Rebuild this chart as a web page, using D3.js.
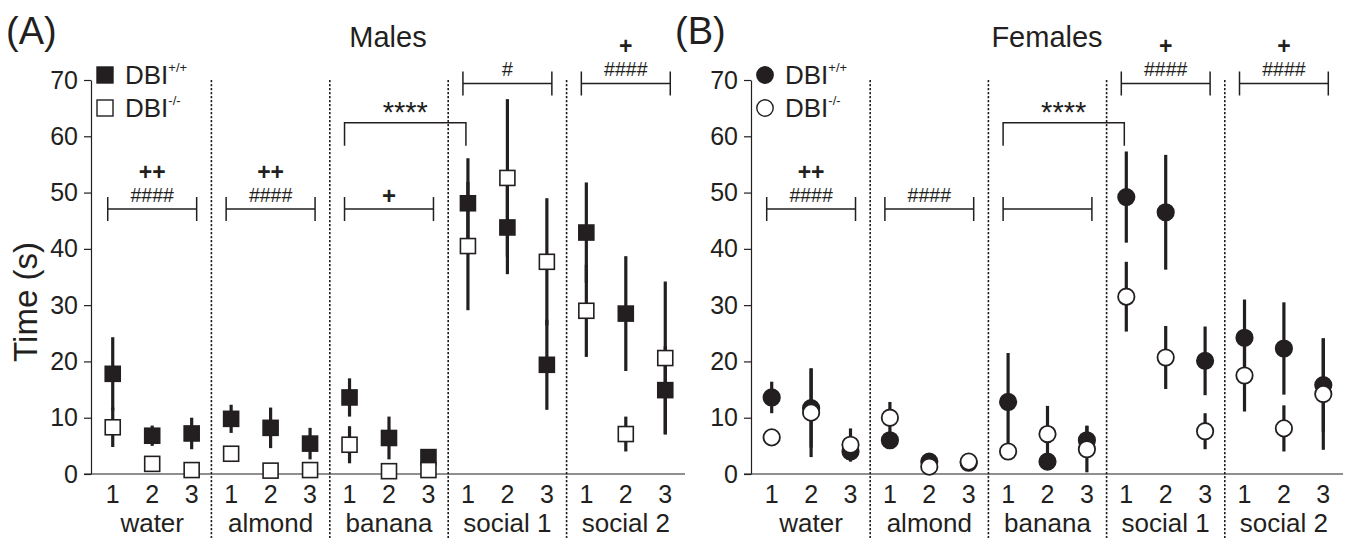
<!DOCTYPE html>
<html><head><meta charset="utf-8">
<script src="https://cdn.jsdelivr.net/npm/d3@7/dist/d3.min.js"></script>
<style>
html,body{margin:0;padding:0;background:#fff;}
svg{display:block;font-family:Arial,"Liberation Sans",Helvetica,sans-serif;}
</style>
</head><body>
<svg id="chart" width="1346" height="538"></svg>
<script>
// ---- data ----
const categories = ["water", "almond", "banana", "social 1", "social 2"];
const trials = ["1", "2", "3"];
const yTicks = [0, 10, 20, 30, 40, 50, 60, 70];
const seriesNames = ["DBI", "DBI"];
const seriesSup = ["+/+", "-/-"];

// Males (A)
const maleWT = [17.8, 6.8, 7.2, 9.8, 8.2, 5.4, 13.6, 6.4, 3.0, 48.1, 43.8, 19.4, 42.9, 28.5, 14.9];
const maleWTerr = [6.5, 1.8, 2.8, 2.5, 3.6, 2.8, 3.4, 3.8, 1.4, 8.0, 8.3, 8.0, 8.9, 10.2, 7.8];
const maleKO = [8.3, 1.8, 0.7, 3.6, 0.6, 0.7, 5.2, 0.5, 0.7, 40.5, 52.6, 37.7, 29.0, 7.1, 20.6];
const maleKOerr = [3.5, 0.4, 0.3, 0.4, 0.3, 0.3, 3.3, 0.3, 0.3, 11.4, 14.0, 11.3, 8.2, 3.1, 13.6];

// Females (B)
const femWT = [13.6, 11.7, 4.0, 6.0, 2.2, 2.0, 12.8, 2.2, 6.0, 49.2, 46.5, 20.1, 24.2, 22.3, 15.8];
const femWTerr = [2.8, 7.0, 1.8, 0.6, 0.4, 0.4, 8.7, 0.4, 2.6, 8.1, 10.2, 6.1, 6.8, 8.2, 8.3];
const femKO = [6.5, 10.9, 5.2, 10.0, 1.3, 2.2, 4.0, 7.1, 4.4, 31.5, 20.7, 7.6, 17.5, 8.1, 14.2];
const femKOerr = [0.4, 7.9, 2.9, 2.8, 0.4, 0.4, 0.4, 5.0, 4.1, 6.2, 5.6, 3.2, 6.4, 4.1, 9.9];

// significance annotations: group index, upper text, lower text
const maleSig = [
  {group: 0, upper: "++", lower: "####"},
  {group: 1, upper: "++", lower: "####"},
  {group: 2, upper: "", lower: "+"},
  {group: 3, upper: "", lower: "#"},
  {group: 4, upper: "+", lower: "####"}
];
const femSig = [
  {group: 0, upper: "++", lower: "####"},
  {group: 1, upper: "", lower: "####"},
  {group: 2, upper: "", lower: ""},
  {group: 3, upper: "+", lower: "####"},
  {group: 4, upper: "+", lower: "####"}
];
const starText = "****";

// ---- drawing ----
const INK = "#231f20";
const svg = d3.select("#chart");
const y = d3.scaleLinear().domain([0, 70]).range([474, 80]);
const keys = [];
categories.forEach(c => trials.forEach(t => keys.push(c + "|" + t)));

function panel(opt) {
  const g = svg.append("g");
  const x = d3.scaleBand().domain(keys).range(opt.range).paddingInner(0).paddingOuter(0);
  const cx = i => x(keys[i]) + x.bandwidth() / 2;

  // separators
  for (let gi = 1; gi < categories.length; gi++) {
    const sx = x(keys[gi * 3]);
    g.append("line").attr("x1", sx).attr("x2", sx).attr("y1", y(70)).attr("y2", 538)
      .attr("stroke", INK).attr("stroke-width", 1.6).attr("stroke-dasharray", "2.2,1.8");
  }

  // y axis
  const ax = d3.axisLeft(y).tickValues(yTicks).tickSize(7).tickPadding(6).tickSizeOuter(0);
  const ag = g.append("g").attr("transform", `translate(${opt.axisX},0)`).call(ax);
  ag.select(".domain").attr("stroke", INK).attr("stroke-width", 1.2);
  ag.selectAll(".tick line").attr("stroke", INK).attr("stroke-width", 1.2);
  ag.selectAll(".tick text").attr("font-size", 25).attr("fill", INK)
    .attr("font-family", "Arial, 'Liberation Sans', sans-serif");

  // x baseline
  g.append("line").attr("x1", opt.axisX - 7).attr("x2", opt.range[1]).attr("y1", y(0)).attr("y2", y(0))
    .attr("stroke", INK).attr("stroke-width", 1.2);

  // x tick labels
  g.selectAll("text.trial").data(keys).enter().append("text").attr("class", "trial")
    .attr("x", (d, i) => cx(i)).attr("y", 503).attr("text-anchor", "middle")
    .attr("font-size", 25).attr("fill", INK).text(d => d.split("|")[1]);
  // category labels
  g.selectAll("text.cat").data(categories).enter().append("text").attr("class", "cat")
    .attr("x", (d, i) => cx(i * 3 + 1)).attr("y", 532).attr("text-anchor", "middle")
    .attr("font-size", 26).attr("fill", INK).text(d => d);

  // error bars
  const series = [
    {mean: opt.wt, err: opt.wtErr, filled: true},
    {mean: opt.ko, err: opt.koErr, filled: false}
  ];
  series.forEach(s => {
    g.selectAll(null).data(s.mean).enter().append("line")
      .attr("x1", (d, i) => cx(i)).attr("x2", (d, i) => cx(i))
      .attr("y1", (d, i) => y(Math.max(0, d - s.err[i])))
      .attr("y2", (d, i) => y(d + s.err[i]))
      .attr("stroke", INK).attr("stroke-width", 3.2);
  });
  // markers
  series.forEach(s => {
    const sel = g.selectAll(null).data(s.mean).enter();
    if (opt.shape === "square") {
      const sz = 15;
      sel.append("rect")
        .attr("x", (d, i) => cx(i) - sz / 2).attr("y", d => y(d) - sz / 2)
        .attr("width", sz).attr("height", sz)
        .attr("fill", s.filled ? INK : "#fff").attr("stroke", INK).attr("stroke-width", 1.6);
    } else {
      sel.append("circle")
        .attr("cx", (d, i) => cx(i)).attr("cy", d => y(d)).attr("r", 8.2)
        .attr("fill", s.filled ? INK : "#fff").attr("stroke", INK).attr("stroke-width", 1.8);
    }
  });

  // significance brackets (per group)
  const lowLevel = 47.1, highLevel = 69.4;
  opt.sig.forEach(s => {
    const high = s.group >= 3;
    const lev = high ? highLevel : lowLevel;
    const x1 = cx(s.group * 3) - 5, x2 = cx(s.group * 3 + 2) + 5, yy = y(lev);
    g.append("path").attr("d", `M${x1},${yy - 12}V${yy + 12}M${x1},${yy}H${x2}M${x2},${yy - 12}V${yy + 12}`)
      .attr("fill", "none").attr("stroke", INK).attr("stroke-width", 1.5);
    const mid = (x1 + x2) / 2;
    if (s.lower) {
      const isHash = s.lower.indexOf("#") >= 0;
      g.append("text").attr("x", mid).attr("y", isHash ? yy - 7 : yy - 5).attr("text-anchor", "middle")
        .attr("font-size", isHash ? 19.5 : 24).attr("font-weight", isHash ? "normal" : "bold")
        .attr("fill", INK).text(s.lower);
    }
    if (s.upper) {
      g.append("text").attr("x", mid).attr("y", yy - 29).attr("text-anchor", "middle")
        .attr("font-size", 23).attr("font-weight", "bold").attr("fill", INK).text(s.upper);
    }
  });
  // **** bracket from banana trial 1 to social 1 trial 1
  {
    const x1 = cx(6) - 5, x2 = cx(9) - 2, yy = y(62.4), yb = y(58.3);
    g.append("path").attr("d", `M${x1},${yb}V${yy}H${x2}V${yb}`)
      .attr("fill", "none").attr("stroke", INK).attr("stroke-width", 1.5);
    g.append("text").attr("x", (x1 + x2) / 2).attr("y", yy - 1).attr("text-anchor", "middle")
      .attr("font-size", 29).attr("fill", INK).text(starText);
  }

  // legend
  const lx = opt.axisX + 14;
  [0, 1].forEach(k => {
    const ly = 75 + k * 33;
    if (opt.shape === "square") {
      g.append("rect").attr("x", lx - 8).attr("y", ly - 8).attr("width", 16).attr("height", 16)
        .attr("fill", k === 0 ? INK : "#fff").attr("stroke", INK).attr("stroke-width", 1.4);
    } else {
      g.append("circle").attr("cx", lx).attr("cy", ly).attr("r", 8.2)
        .attr("fill", k === 0 ? INK : "#fff").attr("stroke", INK).attr("stroke-width", 1.4);
    }
    const t = g.append("text").attr("x", lx + 20).attr("y", ly + 8.5).attr("font-size", 26).attr("fill", INK);
    t.append("tspan").text(seriesNames[k]);
    t.append("tspan").attr("dy", -12).attr("font-size", 13).text(seriesSup[k]);
  });

  // title and panel letter
  svg.append("text").attr("x", opt.titleX).attr("y", 47).attr("text-anchor", "middle")
    .attr("font-size", 29).attr("fill", INK).text(opt.title);
  svg.append("text").attr("x", opt.letterX).attr("y", 44).attr("font-size", 38).attr("fill", INK).text(opt.letter);
}

panel({range: [93, 685], axisX: 91, wt: maleWT, wtErr: maleWTerr, ko: maleKO, koErr: maleKOerr,
  shape: "square", sig: maleSig, title: "Males", titleX: 388, letter: "(A)", letterX: 6});
panel({range: [752, 1343], axisX: 751, wt: femWT, wtErr: femWTerr, ko: femKO, koErr: femKOerr,
  shape: "circle", sig: femSig, title: "Females", titleX: 1047, letter: "(B)", letterX: 675});

// y-axis label
svg.append("text").attr("transform", "translate(37,302) rotate(-90)").attr("text-anchor", "middle")
  .attr("font-size", 33).attr("fill", INK).text("Time (s)");
</script>
</body></html>
